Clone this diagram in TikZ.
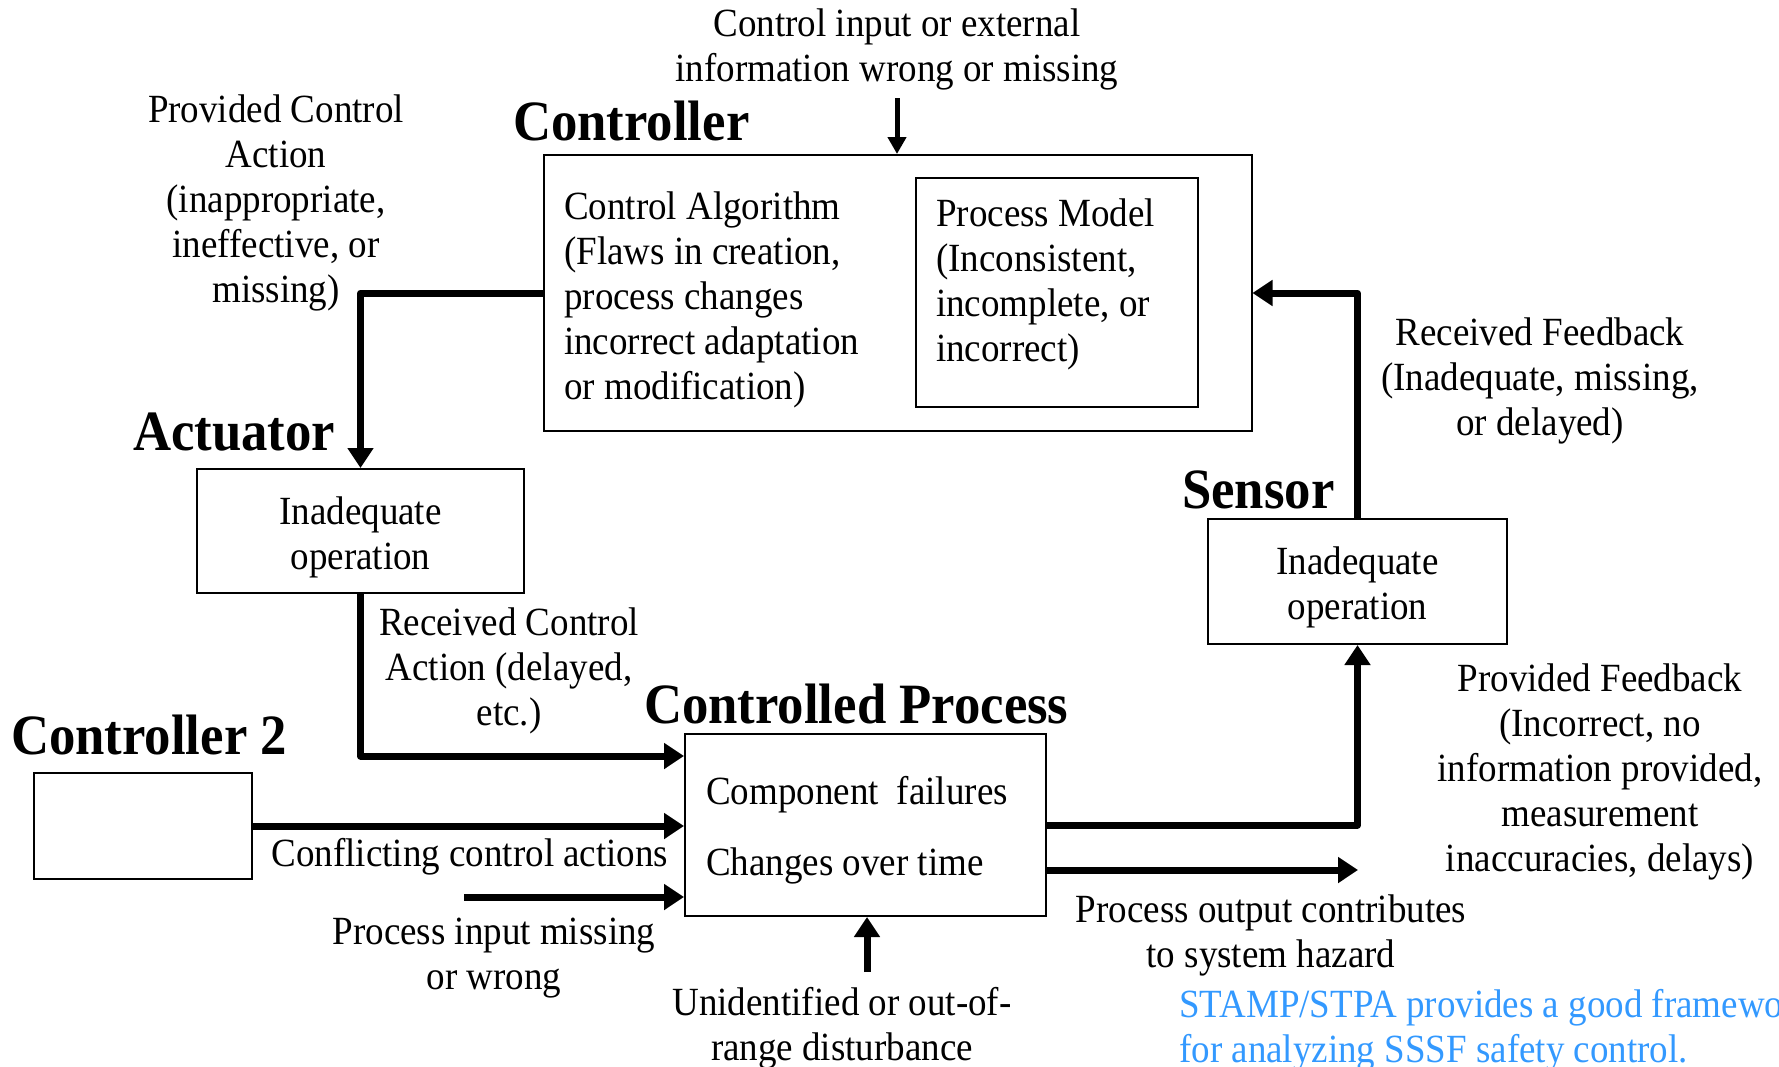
\documentclass[tikz,border=0pt]{standalone}
\usepackage{fontspec}
\setmainfont{Liberation Serif}[FakeStretch=0.925]
\usetikzlibrary{arrows.meta}
\definecolor{stampblue}{RGB}{51,153,255}
\begin{document}
\begin{tikzpicture}[x=1pt,y=-1pt,
  box/.style={draw,line width=2pt,inner sep=0pt,font=\fontsize{40}{45}\selectfont,align=center},
  txt/.style={font=\fontsize{40}{45}\selectfont,inner sep=0pt,align=center},
  head/.style={font=\fontsize{57}{63}\selectfont\bfseries,inner sep=0pt,anchor=west},
  flow/.style={line width=7pt,line join=round,-{Triangle[length=20pt,width=25pt]}},
  thinflow/.style={line width=5pt,-{Triangle[length=17pt,width=18pt]}},
]
\useasboundingbox (0,0) rectangle (1779,1066);

% boxes
\node[box,minimum width=708pt,minimum height=276pt] (ctrl) at (897.5,293) {};
\node[box,minimum width=282pt,minimum height=229pt] (pm) at (1057,292.5) {};
\node[box,minimum width=327pt,minimum height=124pt] (act) at (360.5,531) {};
\node[box,minimum width=361pt,minimum height=182pt] (proc) at (865.5,825) {};
\node[box,minimum width=218pt,minimum height=106pt] (ctwo) at (143,826) {};
\node[box,minimum width=299pt,minimum height=125pt] (sens) at (1357.5,581.5) {};

% headings
\node[head] (hctrl) at (513,121) {Controller};
\node[head] (hact) at (133,432) {Actuator};
\node[head] (hctwo) at (11,735) {Controller 2};
\node[head] (hproc) at (644,704) {Controlled Process};
\node[head] (hsens) at (1182,490) {Sensor};

% box contents
\node[txt] (acttext) at (360.5,537) {Inadequate\\operation};
\node[txt] (senstext) at (1357.5,587) {Inadequate\\operation};
\node[txt,anchor=west,align=left] (alg) at (564,299.5) {Control Algorithm\\(Flaws in creation,\\process changes\\incorrect adaptation\\or modification)};
\node[txt,anchor=west,align=left] (pmtext) at (936,284) {Process Model\\(Inconsistent,\\incomplete, or\\incorrect)};
\node[txt,anchor=west] (comp) at (706,795) {Component\hspace{0.45em}failures};
\node[txt,anchor=west] (chg) at (706,866) {Changes over time};

% labels
\node[txt] (lcin) at (897,49.5) {Control input or external\\information wrong or missing};
\node[txt] (lpca) at (276,203) {Provided Control\\Action\\(inappropriate,\\ineffective, or\\missing)};
\node[txt] (lrca) at (509,671) {Received Control\\Action (delayed,\\etc.)};
\node[txt] (lconf) at (470,857) {Conflicting control actions};
\node[txt] (lpin) at (494,958) {Process input missing\\or wrong};
\node[txt] (ldist) at (842,1028.5) {Unidentified or out-of-\\range disturbance};
\node[txt] (lout) at (1271,935.5) {Process output contributes\\to system hazard};
\node[txt] (lrfb) at (1540,381) {Received Feedback\\(Inadequate, missing,\\or delayed)};
\node[txt] (lpfb) at (1600,771.5) {Provided Feedback\\(Incorrect, no\\information provided,\\measurement\\inaccuracies, delays)};

% connectors
\coordinate (cin) at (897,98);
\draw[thinflow] (cin) -- (cin |- ctrl.north);
\draw[flow] (ctrl.west) -| (act.north);
\draw[flow] (act.south) |- ([yshift=-23pt]proc.north west);
\draw[flow] (ctwo.east) -- (ctwo.east -| proc.west);
\coordinate (pin) at (464,897);
\draw[flow] (pin) -- (pin -| proc.west);
\coordinate (dist) at (867,972);
\draw[flow] (dist) -- (dist |- proc.south);
\coordinate (pout) at (1358,870);
\draw[flow] (pout -| proc.east) -- (pout);
\draw[flow] (proc.east) -| (sens.south);
\draw[flow] (sens.north) |- (ctrl.east);

% note at the lower right edge
\node[txt,anchor=west,align=left,text=stampblue] (note) at (1179,1030.5) {STAMP/STPA provides a good framewo\\for analyzing SSSF safety control.};
\end{tikzpicture}
\end{document}
